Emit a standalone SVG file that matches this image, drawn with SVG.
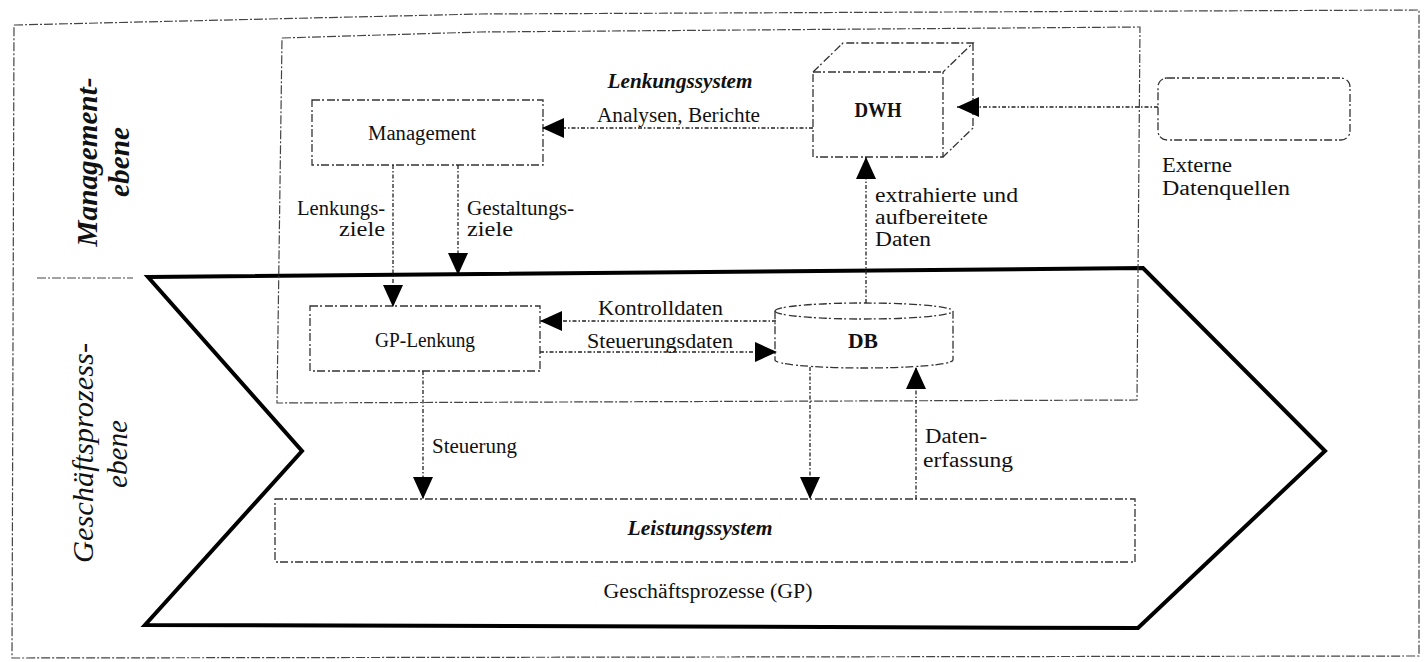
<svg xmlns="http://www.w3.org/2000/svg" width="1424" height="662" viewBox="0 0 1424 662">
<style>
  .frame { fill: none; stroke: #444; stroke-width: 1.2; stroke-dasharray: 9 2 2 2; }
  .box { fill: none; stroke: #333; stroke-width: 1.3; stroke-dasharray: 8 2 2 3; }
  .con { fill: none; stroke: #222; stroke-width: 1.3; stroke-dasharray: 4 2 1.5 2; }
  .chev { fill: none; stroke: #000; stroke-width: 4; stroke-linejoin: miter; }
  text { font-family: "Liberation Serif", "Times New Roman", serif; font-size: 20px; fill: #111; }
  .it { font-style: italic; font-weight: bold; }
  .side { font-style: italic; font-size: 29px; }
  .mid { text-anchor: middle; }
  .end { text-anchor: end; }
</style>
<defs>
  <marker id="arr" markerUnits="userSpaceOnUse" markerWidth="22" markerHeight="20" refX="22" refY="10" orient="auto">
    <path d="M0,0 L22,10 L0,20 Z" fill="#000"/>
  </marker>
</defs>
<rect width="1424" height="662" fill="#fff"/>

<g id="outer-frame">
  <polyline class="frame" points="14,25 480,14 1419,10 1419,656 12,658 14,25"/>
  <line class="frame" x1="37" y1="278" x2="133" y2="278"/>
</g>

<g id="ebenen-labels">
  <text class="side" font-weight="bold" transform="translate(97,162) rotate(-90)" text-anchor="middle" textLength="169" lengthAdjust="spacingAndGlyphs">Management-</text>
  <text class="side" font-weight="bold" transform="translate(129,162) rotate(-90)" text-anchor="middle" textLength="70" lengthAdjust="spacingAndGlyphs">ebene</text>
  <text class="side" transform="translate(93,453) rotate(-90)" text-anchor="middle" textLength="220" lengthAdjust="spacingAndGlyphs">Geschäftsprozess-</text>
  <text class="side" transform="translate(127,454) rotate(-90)" text-anchor="middle" textLength="68" lengthAdjust="spacingAndGlyphs">ebene</text>
</g>

<g id="geschaeftsprozesse">
  <polygon class="chev" points="148,277 1143,268 1325,451 1138,628 145,625 302,451"/>
  <text class="mid" x="708" y="598" textLength="209" lengthAdjust="spacingAndGlyphs">Geschäftsprozesse (GP)</text>
</g>

<g id="lenkungssystem">
  <polyline class="frame" points="282,38 480,32 1140,27 1137,400 277,403 282,38"/>
  <text class="it mid" x="680" y="88" textLength="145" lengthAdjust="spacingAndGlyphs">Lenkungssystem</text>
</g>

<g id="management">
  <rect class="box" x="312" y="100" width="231" height="65"/>
  <text class="mid" x="422" y="140" textLength="108" lengthAdjust="spacingAndGlyphs">Management</text>
</g>

<g id="dwh">
  <rect class="box" x="813" y="72" width="130" height="85"/>
  <polyline class="box" points="813,72 843,43 973,43 943,72"/>
  <polyline class="box" points="973,43 973,128 943,157"/>
  <text class="mid" x="878" y="117" font-weight="bold" textLength="47" lengthAdjust="spacingAndGlyphs">DWH</text>
</g>

<g id="externe-datenquellen">
  <rect class="box" x="1158" y="78" width="192" height="62" rx="9"/>
  <text x="1162" y="172" textLength="70" lengthAdjust="spacingAndGlyphs">Externe</text>
  <text x="1162" y="195" textLength="128" lengthAdjust="spacingAndGlyphs">Datenquellen</text>
</g>

<g id="gp-lenkung">
  <rect class="box" x="310" y="306" width="230" height="65"/>
  <text class="mid" x="425" y="347" textLength="100" lengthAdjust="spacingAndGlyphs">GP-Lenkung</text>
</g>

<g id="db">
  <path class="box" d="M775,311 A89,8 0 0 1 953,311 L953,360 A89,8 0 0 1 775,360 Z"/>
  <path class="box" d="M775,311 A89,8 0 0 0 953,311"/>
  <text class="mid" x="863" y="348" font-weight="bold" textLength="30" lengthAdjust="spacingAndGlyphs">DB</text>
</g>

<g id="leistungssystem">
  <rect class="box" x="275" y="499" width="860" height="63"/>
  <text class="it mid" x="700" y="535" textLength="145" lengthAdjust="spacingAndGlyphs">Leistungssystem</text>
</g>

<g id="connectors">
  <line class="con" x1="813" y1="128" x2="542" y2="128" marker-end="url(#arr)"/>
  <line class="con" x1="1158" y1="107" x2="957" y2="107" marker-end="url(#arr)"/>
  <line class="con" x1="866" y1="303" x2="866" y2="157" marker-end="url(#arr)"/>
  <line class="con" x1="393" y1="165" x2="393" y2="307" marker-end="url(#arr)"/>
  <line class="con" x1="458" y1="165" x2="458" y2="275" marker-end="url(#arr)"/>
  <line class="con" x1="776" y1="321" x2="540" y2="321" marker-end="url(#arr)"/>
  <line class="con" x1="540" y1="352" x2="777" y2="352" marker-end="url(#arr)"/>
  <line class="con" x1="423" y1="371" x2="423" y2="499" marker-end="url(#arr)"/>
  <line class="con" x1="810" y1="367" x2="810" y2="499" marker-end="url(#arr)"/>
  <line class="con" x1="916" y1="499" x2="916" y2="367" marker-end="url(#arr)"/>

  <text x="597" y="122" textLength="163" lengthAdjust="spacingAndGlyphs">Analysen, Berichte</text>
  <text x="875" y="202" textLength="143" lengthAdjust="spacingAndGlyphs">extrahierte und</text>
  <text x="875" y="224" textLength="113" lengthAdjust="spacingAndGlyphs">aufbereitete</text>
  <text x="875" y="246" textLength="56" lengthAdjust="spacingAndGlyphs">Daten</text>
  <text class="end" x="385" y="215" textLength="88" lengthAdjust="spacingAndGlyphs">Lenkungs-</text>
  <text class="end" x="385" y="236" textLength="46" lengthAdjust="spacingAndGlyphs">ziele</text>
  <text x="467" y="215" textLength="107" lengthAdjust="spacingAndGlyphs">Gestaltungs-</text>
  <text x="467" y="236" textLength="46" lengthAdjust="spacingAndGlyphs">ziele</text>
  <text x="598" y="315" textLength="125" lengthAdjust="spacingAndGlyphs">Kontrolldaten</text>
  <text x="587" y="348" textLength="146" lengthAdjust="spacingAndGlyphs">Steuerungsdaten</text>
  <text x="432" y="453" textLength="85" lengthAdjust="spacingAndGlyphs">Steuerung</text>
  <text x="925" y="443" textLength="62" lengthAdjust="spacingAndGlyphs">Daten-</text>
  <text x="923" y="467" textLength="90" lengthAdjust="spacingAndGlyphs">erfassung</text>
</g>
</svg>
